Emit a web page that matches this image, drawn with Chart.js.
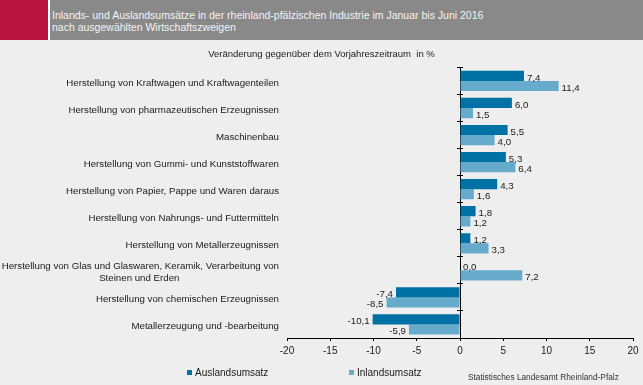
<!DOCTYPE html>
<html>
<head>
<meta charset="utf-8">
<script src="https://cdn.jsdelivr.net/npm/chart.js@4"></script>
<style>
  html, body { margin: 0; padding: 0; }
  body { width: 643px; height: 385px; background: #eeeeee; position: relative; overflow: hidden;
         font-family: "Liberation Sans", Arial, sans-serif; }
  #hdrRed { position: absolute; left: 0; top: 0; width: 48px; height: 40px; background: #b8163f; }
  #hdrGap { position: absolute; left: 48px; top: 0; width: 2px; height: 40px; background: #ffffff; }
  #hdrGray { position: absolute; left: 50px; top: 0; width: 593px; height: 40px; background: #898989; }
  #hdrText { position: absolute; left: 52px; top: 9px; color: #f4f4f4; font-size: 10.5px; line-height: 12px; white-space: nowrap; }
  #wrap { position: absolute; left: 0; top: 0; width: 643px; height: 385px; }
  .leg { position: absolute; top: 366px; font-size: 10px; line-height: 14px; color: #1a1a1a; white-space: nowrap; }
  .leg span.box { display: inline-block; width: 5px; height: 5px; margin-right: 3px; vertical-align: 1px; }
  #source { position: absolute; left: 468px; top: 371px; font-size: 8.3px; line-height: 12px; color: #333; white-space: nowrap; }
</style>
</head>
<body>
<div id="hdrRed"></div><div id="hdrGap"></div><div id="hdrGray"></div>
<div id="hdrText">Inlands- und Auslandsumsätze in der rheinland-pfälzischen Industrie im Januar bis Juni 2016<br>nach ausgewählten Wirtschaftszweigen</div>
<div id="wrap"><canvas id="c" width="643" height="385"></canvas></div>
<div id="leg0" class="leg" style="left:187px"></div>
<div id="leg1" class="leg" style="left:349px"></div>
<div id="source">Statistisches Landesamt Rheinland-Pfalz</div>
<script>
// ---- data ----
const categories = [
  ["Herstellung von Kraftwagen und Kraftwagenteilen"],
  ["Herstellung von pharmazeutischen Erzeugnissen"],
  ["Maschinenbau"],
  ["Herstellung von Gummi- und Kunststoffwaren"],
  ["Herstellung von Papier, Pappe und Waren daraus"],
  ["Herstellung von Nahrungs- und Futtermitteln"],
  ["Herstellung von Metallerzeugnissen"],
  ["Herstellung von Glas und Glaswaren, Keramik, Verarbeitung von", "Steinen und Erden"],
  ["Herstellung von chemischen Erzeugnissen"],
  ["Metallerzeugung und -bearbeitung"]
];
const seriesNames = ["Auslandsumsatz", "Inlandsumsatz"];
const auslandsumsatz = [7.4, 6.0, 5.5, 5.3, 4.3, 1.8, 1.2, 0.0, -7.4, -10.1];
const inlandsumsatz  = [11.4, 1.5, 4.0, 6.4, 1.6, 1.2, 3.3, 7.2, -8.5, -5.9];
const xMin = -20, xMax = 20, xStep = 5;
const chartTitle = "Veränderung gegenüber dem Vorjahreszeitraum  in %";
const colors = ["#0071a4", "#66abcb"];

const FONT = '"Liberation Sans", Arial, sans-serif';
const LABEL_SIZE = 9.7;

// center multi-line labels relative to each other (lines are right-aligned by Chart.js)
function centerLines(lines) {
  if (lines.length < 2) return lines.length === 1 ? lines[0] : lines;
  const ctx = document.createElement('canvas').getContext('2d');
  ctx.font = LABEL_SIZE + 'px ' + FONT;
  const w = lines.map(l => ctx.measureText(l).width);
  const max = Math.max(...w);
  const sp = ctx.measureText(' ').width;
  return lines.map((l, i) => l + ' '.repeat(Math.round((max - w[i]) / 2 / sp)));
}
const labels = categories.map(centerLines);

const valueLabels = {
  id: 'valueLabels',
  afterDatasetsDraw(chart) {
    const ctx = chart.ctx;
    ctx.save();
    ctx.font = LABEL_SIZE + 'px ' + FONT;
    ctx.fillStyle = '#1a1a1a';
    ctx.textBaseline = 'middle';
    chart.data.datasets.forEach((ds, di) => {
      const meta = chart.getDatasetMeta(di);
      meta.data.forEach((el, i) => {
        const v = ds.data[i];
        const txt = v.toFixed(1).replace('.', ',');
        if (v >= 0) { ctx.textAlign = 'left'; ctx.fillText(txt, el.x + 3, el.y + 2); }
        else { ctx.textAlign = 'right'; ctx.fillText(txt, el.x - 3, el.y + 2); }
      });
    });
    ctx.restore();
  }
};

const tickGrid = (len) => ({ offset: true, drawOnChartArea: false, drawTicks: true, tickLength: len, color: '#000', lineWidth: 1 });

new Chart(document.getElementById('c'), {
  type: 'bar',
  data: {
    labels: labels,
    datasets: [
      { label: seriesNames[0], data: auslandsumsatz, backgroundColor: colors[0], categoryPercentage: 0.75, barPercentage: 1.0 },
      { label: seriesNames[1], data: inlandsumsatz, backgroundColor: colors[1], categoryPercentage: 0.75, barPercentage: 1.0 }
    ]
  },
  options: {
    indexAxis: 'y',
    responsive: false,
    animation: false,
    devicePixelRatio: 1,
    layout: { padding: { top: 40, right: 0, bottom: 24, left: 0 } },
    plugins: {
      legend: { display: false },
      tooltip: { enabled: false },
      title: { display: true, text: chartTitle, color: '#1a1a1a',
               font: { family: FONT, size: 9.5, weight: 'normal' }, padding: { top: 9, bottom: 7 } }
    },
    scales: {
      x: {
        type: 'linear', min: xMin, max: xMax,
        ticks: { stepSize: xStep, color: '#1a1a1a', font: { family: FONT, size: 10 }, padding: 4 },
        grid: { drawOnChartArea: false, tickLength: 3, color: '#000' },
        border: { display: true, color: '#000' },
        afterFit(scale) { scale.paddingRight = 10; }
      },
      y: {
        type: 'category',
        ticks: { color: '#1a1a1a', font: { family: FONT, size: LABEL_SIZE }, padding: 8, autoSkip: false, labelOffset: 2 },
        grid: { display: false, drawTicks: false },
        border: { display: false },
        afterFit(scale) { scale.width = 287; }
      },
      yL: {
        axis: 'y', type: 'category', position: { x: 0 }, offset: true,
        ticks: { display: false },
        grid: tickGrid(3),
        border: { display: true, color: '#000' }
      },
      yR: {
        axis: 'y', type: 'category', position: { x: 0 }, offset: true,
        ticks: { display: false },
        grid: tickGrid(-3),
        border: { display: false }
      }
    }
  },
  plugins: [valueLabels]
});

// legend built from the series
seriesNames.forEach((name, i) => {
  const el = document.getElementById('leg' + i);
  const box = document.createElement('span');
  box.className = 'box';
  box.style.background = colors[i];
  el.appendChild(box);
  el.appendChild(document.createTextNode(name));
});
</script>
</body>
</html>
